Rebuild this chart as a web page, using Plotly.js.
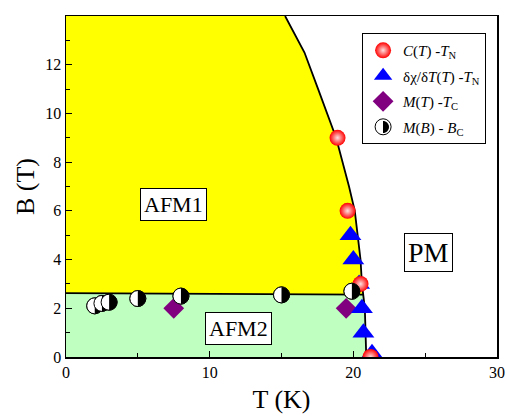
<!DOCTYPE html>
<html><head><meta charset="utf-8">
<script src="https://cdn.plot.ly/plotly-3.0.1.min.js"></script>
<style>html,body{margin:0;padding:0;background:#fff}#chart{width:507px;height:417px}</style>
</head><body><div id="chart"></div>
<script>
// AFM1 / PM phase boundary (from top to bottom)
const curveT = [15.25, 16.6, 17.55, 18.8, 19.7, 20.1, 20.3, 20.5, 20.6, 20.7, 20.8, 20.85, 20.9];
const curveB = [14, 12.5, 11, 9, 7, 6, 5, 4, 3, 2.56, 2, 1, 0];
// AFM1 / AFM2 boundary
const lineT = [0, 20.7];
const lineB = [2.62, 2.56];

// data series
const cT_T = [18.9, 19.6, 20.5, 21.2];
const cT_B = [9.0, 6.0, 3.0, 0.0];
const dchi_T = [19.8, 20.0, 20.4, 20.6, 20.7, 21.3];
const dchi_B = [5.0, 4.0, 3.0, 2.0, 1.0, 0.15];
const mT_T = [7.5, 19.5];
const mT_B = [2.0, 2.0];
const mB_T = [2.0, 2.5, 3.0, 5.0, 8.0, 15.0, 19.9];
const mB_B = [2.1, 2.2, 2.25, 2.4, 2.5, 2.55, 2.7];

// axis ticks
const xTicks = [0, 10, 20, 30];
const yTicks = [0, 2, 4, 6, 8, 10, 12];

// region labels
const labelText = ['AFM1', 'AFM2', 'PM'];
const labelT = [7.5, 12.0, 25.2];
const labelB = [6.27, 1.15, 4.3];
const labelSize = [22, 22, 28];

const legendNames = [
  '<i>C</i>(<i>T</i>) -<i>T</i><sub>N</sub>',
  'δχ/δ<i>T</i>(<i>T</i>) -<i>T</i><sub>N</sub>',
  '<i>M</i>(<i>T</i>) -<i>T</i><sub>C</sub>',
  '<i>M</i>(<i>B</i>) - <i>B</i><sub>C</sub>'
];

const SERIF = '"Liberation Serif", "Times New Roman", Times, serif';
const iX = curveB.indexOf(lineB[1]);

const yellowX = [lineT[0]].concat(curveT.slice(0, iX + 1), [lineT[0]]);
const yellowY = [curveB[0]].concat(curveB.slice(0, iX + 1), [lineB[0]]);
const greenX = [lineT[0]].concat(curveT.slice(iX), [lineT[0]]);
const greenY = [lineB[0]].concat(curveB.slice(iX), [curveB[curveB.length - 1]]);

const traces = [
  {x: yellowX, y: yellowY, mode: 'lines', fill: 'toself', fillcolor: '#ffff00',
   line: {width: 0}, showlegend: false, hoverinfo: 'skip'},
  {x: greenX, y: greenY, mode: 'lines', fill: 'toself', fillcolor: '#bfffbf',
   line: {width: 0}, showlegend: false, hoverinfo: 'skip'},
  {x: curveT, y: curveB, mode: 'lines', line: {color: '#000', width: 1.8},
   showlegend: false, hoverinfo: 'skip'},
  {x: lineT, y: lineB, mode: 'lines', line: {color: '#000', width: 1.8},
   showlegend: false, hoverinfo: 'skip'},
  {x: mB_T, y: mB_B, mode: 'markers', name: legendNames[3], legendrank: 4, legendgroup: 'd',
   marker: {symbol: 'circle', size: 16, color: 'rgba(255,255,255,0)', line: {color: '#000', width: 1}}},
  {x: mT_T, y: mT_B, mode: 'markers', name: legendNames[2], legendrank: 3, legendgroup: 'c',
   marker: {symbol: 'diamond', size: 16, color: '#800080', line: {width: 0}}},
  {x: dchi_T, y: dchi_B, mode: 'markers', name: legendNames[1], legendrank: 2, legendgroup: 'b',
   marker: {symbol: 'triangle-up', size: 19, color: '#0000ff', line: {width: 0}}},
  {x: cT_T, y: cT_B, mode: 'markers', name: legendNames[0], legendrank: 1, legendgroup: 'a',
   marker: {symbol: 'circle', size: 16, color: '#ff0000',
            gradient: {type: 'radial', color: '#ffe0e0'}, line: {width: 0}}}
];

// half-filled circles: white disc + black right half, interleaved so later points overlap earlier
const r = 8, k = 0.5523;
const halfPath = (rr) => `M0,${-rr} C${k*rr},${-rr} ${rr},${-k*rr} ${rr},0 C${rr},${k*rr} ${k*rr},${rr} 0,${rr} Z`;
const shapes = [];
mB_T.forEach((t, i) => {
  shapes.push({type: 'circle', xref: 'x', yref: 'y', xsizemode: 'pixel', ysizemode: 'pixel',
    xanchor: t, yanchor: mB_B[i], x0: -r, x1: r, y0: -r, y1: r,
    fillcolor: '#fff', line: {color: '#000', width: 1}});
  shapes.push({type: 'path', xref: 'x', yref: 'y', xsizemode: 'pixel', ysizemode: 'pixel',
    xanchor: t, yanchor: mB_B[i], path: halfPath(r), fillcolor: '#000', line: {width: 0}});
});
// same glyph behind the (transparent) legend symbol
shapes.push({type: 'path', xref: 'paper', yref: 'paper', xsizemode: 'pixel', ysizemode: 'pixel',
  xanchor: 0.7355, yanchor: 0.6745, path: halfPath(6), fillcolor: '#000', line: {width: 0}});

const annotations = labelText.map((s, i) => ({
  x: labelT[i], y: labelB[i], xref: 'x', yref: 'y', text: s, showarrow: false,
  font: {family: SERIF, size: labelSize[i], color: '#000'},
  bgcolor: '#fff', bordercolor: '#000', borderwidth: 1, borderpad: 3
}));

const axisCommon = {
  showgrid: false, zeroline: false, showline: true, mirror: true,
  linecolor: '#000', linewidth: 1.5, ticks: 'inside', ticklen: 6, tickwidth: 1,
  tickcolor: '#000', tickfont: {family: SERIF, size: 16, color: '#000'}
};

const layout = {
  width: 507, height: 417,
  margin: {l: 66, r: 10, t: 16, b: 60},
  paper_bgcolor: '#fff', plot_bgcolor: '#fff',
  font: {family: SERIF, color: '#000'},
  showlegend: true,
  legend: {x: 0.687, y: 0.95, xanchor: 'left', yanchor: 'top', bgcolor: 'rgba(255,255,255,0)',
           bordercolor: '#000', borderwidth: 1, traceorder: 'grouped', tracegroupgap: 3,
           font: {family: SERIF, size: 15, color: '#000'}},
  xaxis: Object.assign({}, axisCommon, {
    range: [0, 30], tickvals: xTicks,
    minor: {dtick: 5, ticks: 'inside', ticklen: 4, tickcolor: '#000'},
    title: {text: 'T (K)', font: {family: SERIF, size: 26, color: '#000'}, standoff: 10}
  }),
  yaxis: Object.assign({}, axisCommon, {
    range: [0, 14], tickvals: yTicks,
    minor: {dtick: 1, ticks: 'inside', ticklen: 4, tickcolor: '#000'},
    title: {text: 'B (T)', font: {family: SERIF, size: 26, color: '#000'}, standoff: 3}
  }),
  shapes: shapes,
  annotations: annotations
};

Plotly.newPlot('chart', traces, layout, {displayModeBar: false, staticPlot: true});
</script>
</body></html>
